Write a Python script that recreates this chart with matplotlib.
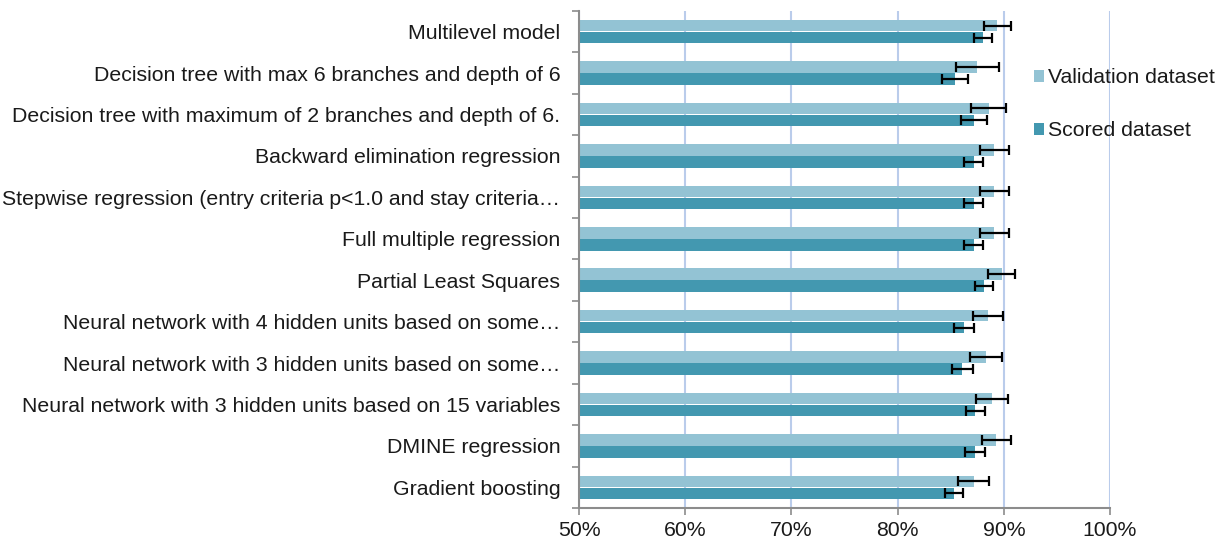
import matplotlib.pyplot as plt
import numpy as np
from matplotlib.ticker import FixedLocator, PercentFormatter

plt.rcParams["font.family"] = ["Liberation Sans", "DejaVu Sans"]

models = [
    "Multilevel model",
    "Decision tree with max 6 branches and depth of 6",
    "Decision tree with maximum of 2 branches and depth of 6.",
    "Backward elimination regression",
    "Stepwise regression (entry criteria p<1.0 and stay criteria\u2026",
    "Full multiple regression",
    "Partial Least Squares",
    "Neural network with 4 hidden units based on some\u2026",
    "Neural network with 3 hidden units based on some\u2026",
    "Neural network with 3 hidden units based on 15 variables",
    "DMINE regression",
    "Gradient boosting",
]
validation = [0.894, 0.875, 0.886, 0.891, 0.891, 0.891, 0.898, 0.885, 0.883, 0.889, 0.893, 0.8715]
validation_err = [0.013, 0.020, 0.0165, 0.0135, 0.0135, 0.0135, 0.0125, 0.0145, 0.015, 0.015, 0.014, 0.015]
scored = [0.880, 0.854, 0.872, 0.8715, 0.8715, 0.8715, 0.881, 0.8625, 0.861, 0.873, 0.873, 0.853]
scored_err = [0.0085, 0.012, 0.012, 0.009, 0.009, 0.009, 0.0086, 0.0097, 0.010, 0.009, 0.0094, 0.0088]

light = "#93C3D4"
dark = "#4398B0"
grid_color = "#BACCEB"
spine_color = "#8C8C8C"
fs = 15.3

fig = plt.figure(figsize=(12.32, 5.44), dpi=100)
ax = fig.add_axes([0.470, 0.066, 0.431, 0.914])

y = np.arange(len(models))
h = 0.28
off = 0.145

ax.barh(y - off, validation, height=h, color=light, label="Validation dataset", zorder=2)
ax.barh(y + off, scored, height=h, color=dark, label="Scored dataset", zorder=2)
ax.errorbar(validation, y - off, xerr=validation_err, fmt="none", ecolor="black",
            elinewidth=1.6, capsize=3.8, capthick=1.6, zorder=3)
ax.errorbar(scored, y + off, xerr=scored_err, fmt="none", ecolor="black",
            elinewidth=1.6, capsize=3.8, capthick=1.6, zorder=3)

ax.set_xlim(0.5, 1.0)
ax.set_ylim(len(models) - 0.5, -0.5)
ax.set_xticks(np.arange(0.5, 1.01, 0.1))
ax.xaxis.set_major_formatter(PercentFormatter(1.0, decimals=0))
ax.set_yticks(y)
ax.set_yticklabels(models)
ax.yaxis.set_minor_locator(FixedLocator(np.arange(-0.5, len(models), 1.0)))
ax.tick_params(axis="y", which="major", length=0, pad=13.5, labelsize=fs, labelcolor="#1a1a1a")
ax.tick_params(axis="y", which="minor", length=5, width=1.2, color=spine_color, direction="out")
ax.tick_params(axis="x", which="major", length=5, width=1.2, color=spine_color, pad=4,
               labelsize=fs, labelcolor="#1a1a1a")

ax.grid(True, axis="x", color=grid_color, linewidth=1.5, zorder=0)
ax.set_axisbelow(True)
for side in ["top", "right"]:
    ax.spines[side].set_visible(False)
for side in ["left", "bottom"]:
    ax.spines[side].set_color(spine_color)
    ax.spines[side].set_linewidth(1.5)

leg = fig.legend(loc="upper left", bbox_to_anchor=(0.832, 0.89), frameon=False,
                 fontsize=fs, handlelength=0.5, handleheight=0.5, handletextpad=0.2,
                 labelspacing=1.6, borderaxespad=0)
for t in leg.get_texts():
    t.set_color("#1a1a1a")

fig.savefig("out.png", dpi=100)
